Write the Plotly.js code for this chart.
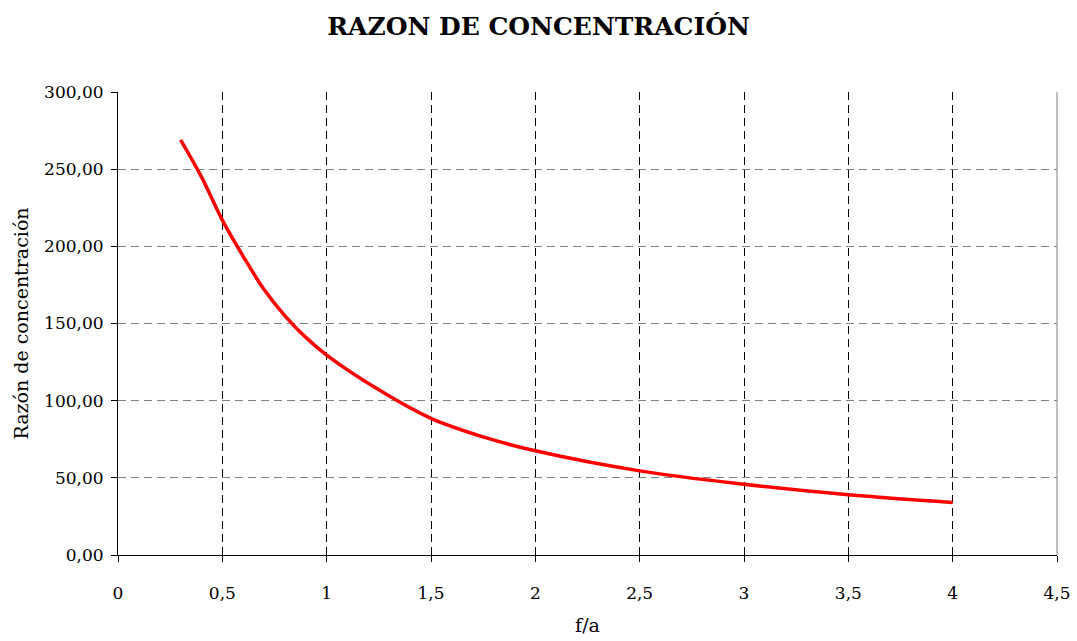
<!DOCTYPE html>
<html>
<head>
<meta charset="utf-8">
<script src="https://cdn.plot.ly/plotly-3.0.1.min.js"></script>
<style>html,body{margin:0;padding:0;background:#fff;}#chart{width:1077px;height:641px;}</style>
</head>
<body>
<div id="chart"></div>
<script>
const fa = [0.3, 0.4, 0.5, 0.6, 0.7, 0.8, 0.9, 1.0, 1.25, 1.5, 1.75, 2.0, 2.5, 3.0, 3.5, 4.0];
const razon = [269, 245, 217, 193.5, 172, 155, 141, 129.5, 107, 88.5, 76.5, 67.5, 54.5, 45.8, 39.0, 34.0];
const xTicks = [0, 0.5, 1, 1.5, 2, 2.5, 3, 3.5, 4, 4.5];
const yTicks = [0, 50, 100, 150, 200, 250, 300];

const serif = "DejaVu Serif, Liberation Serif, serif";

const trace = {
  x: fa, y: razon, type: 'scatter', mode: 'lines',
  line: {color: '#ff0000', width: 3.5, shape: 'spline', smoothing: 1},
  showlegend: false, hoverinfo: 'x+y'
};

const layout = {
  width: 1077, height: 641,
  margin: {l: 118, r: 20, t: 92, b: 86},
  paper_bgcolor: '#fff', plot_bgcolor: '#fff',
  separators: ',.',
  font: {family: serif, size: 17, color: '#000'},
  title: {text: '<b>RAZON DE CONCENTRACIÓN</b>', font: {family: serif, size: 25, color: '#000'},
          x: 0.5, xref: 'container', xanchor: 'center', y: 1 - 26/641, yref: 'container', yanchor: 'middle'},
  xaxis: {
    range: [0, 4.5], tickvals: xTicks, ticktext: xTicks.map(v => String(v).replace('.', ',')),
    showline: true, linecolor: '#000', linewidth: 1,
    ticks: 'outside', ticklen: 6, tickcolor: '#000',
    showgrid: true, gridcolor: '#000', gridwidth: 1, griddash: '8px,5px',
    zeroline: false, ticklabelstandoff: 17,
    tickfont: {family: serif, size: 17},
    title: {text: 'f/a', font: {family: serif, size: 19}, standoff: 16}
  },
  yaxis: {
    range: [0, 300], tickvals: yTicks, tickformat: '.2f',
    showline: true, linecolor: '#000', linewidth: 1,
    ticks: 'outside', ticklen: 6, tickcolor: '#000',
    showgrid: true, gridcolor: '#808080', gridwidth: 1, griddash: '8px,5px',
    zeroline: false, ticklabelstandoff: 4,
    tickfont: {family: serif, size: 17},
    title: {text: 'Razón de concentración', font: {family: serif, size: 19}, standoff: 10}
  },
  shapes: [
    {type: 'line', xref: 'paper', yref: 'paper', x0: 1, x1: 1, y0: 0, y1: 1,
     line: {color: '#808080', width: 1}}
  ]
};

Plotly.newPlot('chart', [trace], layout, {displayModeBar: false, staticPlot: true});
</script>
</body>
</html>
